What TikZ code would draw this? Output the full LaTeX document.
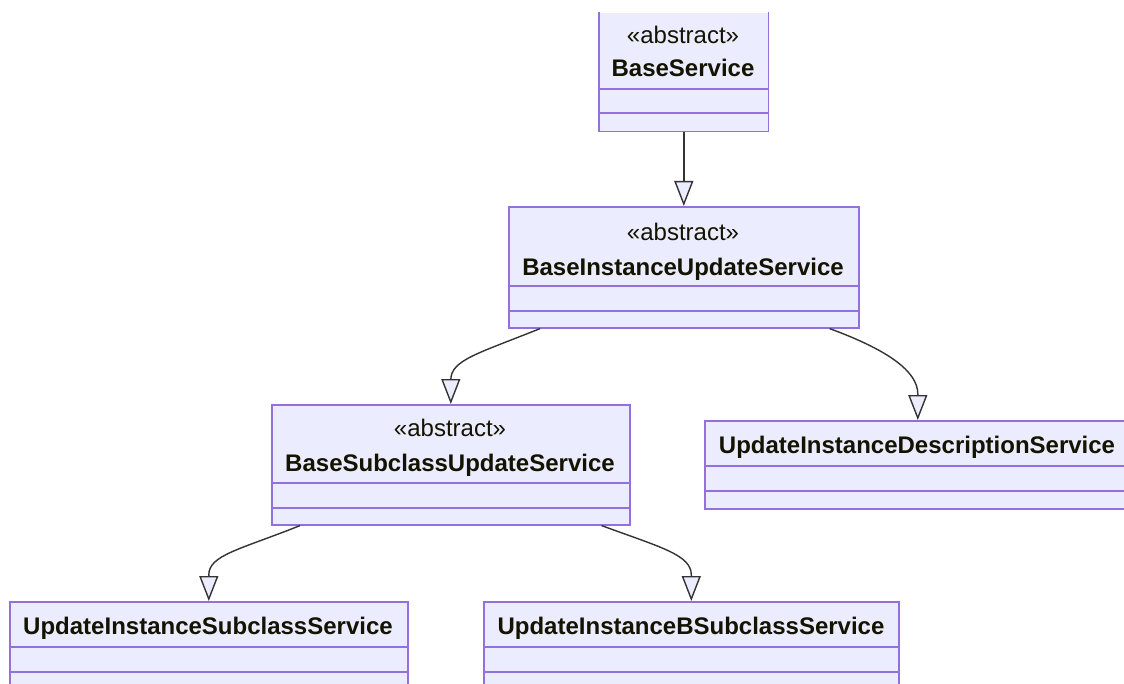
\documentclass[tikz,border=0pt]{standalone}
\usepackage{fontspec}
\setmainfont{Liberation Sans}
\usetikzlibrary{arrows.meta,calc}
\definecolor{classfill}{HTML}{ECECFF}
\definecolor{classline}{HTML}{9370DB}
\definecolor{edgeline}{HTML}{333333}
\definecolor{txt}{HTML}{131300}

\begin{document}
\begin{tikzpicture}[x=1pt,y=-1pt,
  classbox/.style={draw=classline, fill=classfill, line width=1.6pt, inner sep=0pt, anchor=north west},
  stereo/.style={font=\fontsize{24}{28}\selectfont, text=txt, anchor=base, inner sep=0pt},
  cname/.style={font=\fontsize{24}{28}\selectfont\bfseries, text=txt, anchor=base, inner sep=0pt},
  divider/.style={draw=classline, line width=1.6pt},
  inherit/.style={draw=edgeline, line width=1.4pt,
    -{Triangle[length=25pt,width=19pt,fill=classfill]}}
]
\useasboundingbox (0,0) rectangle (1124,684);
\fill[white] (0,0) rectangle (1124,684);
\clip (0,0) rectangle (1124,684);

% BaseService (top border lies outside the view)
\node[classbox, draw=none, minimum width=168pt, minimum height=118pt] (bs) at (599,12) {};
\draw[divider] (bs.north west) -- (bs.south west) -- (bs.south east) -- (bs.north east);
\draw[divider] ($(bs.north west)+(0,77)$) -- ($(bs.north east)+(0,77)$);
\draw[divider] ($(bs.north west)+(0,101)$) -- ($(bs.north east)+(0,101)$);
\node[stereo] (bs-st) at (683,43.5) {«abstract»};
\node[cname] (bs-nm) at (683,76.5) {BaseService};

% BaseInstanceUpdateService
\node[classbox, minimum width=350pt, minimum height=121pt] (bius) at (508,206) {};
\draw[divider] ($(bius.north west)+(0,80)$) -- ($(bius.north east)+(0,80)$);
\draw[divider] ($(bius.north west)+(0,105)$) -- ($(bius.north east)+(0,105)$);
\node[stereo] (bius-st) at (683,240.5) {«abstract»};
\node[cname] (bius-nm) at (683,275.5) {BaseInstanceUpdateService};

% BaseSubclassUpdateService
\node[classbox, minimum width=358pt, minimum height=120pt] (bsus) at (271,404) {};
\draw[divider] ($(bsus.north west)+(0,79)$) -- ($(bsus.north east)+(0,79)$);
\draw[divider] ($(bsus.north west)+(0,104)$) -- ($(bsus.north east)+(0,104)$);
\node[stereo] (bsus-st) at (450,436.5) {«abstract»};
\node[cname] (bsus-nm) at (450,471.5) {BaseSubclassUpdateService};

% UpdateInstanceDescriptionService
\node[classbox, minimum width=426pt, minimum height=88pt] (uids) at (704,420) {};
\draw[divider] ($(uids.north west)+(0,46)$) -- ($(uids.north east)+(0,46)$);
\draw[divider] ($(uids.north west)+(0,71)$) -- ($(uids.north east)+(0,71)$);
\node[cname] (uids-nm) at (917,453.5) {UpdateInstanceDescriptionService};

% UpdateInstanceSubclassService
\node[classbox, minimum width=398pt, minimum height=88pt] (uiss) at (9,601) {};
\draw[divider] ($(uiss.north west)+(0,46)$) -- ($(uiss.north east)+(0,46)$);
\draw[divider] ($(uiss.north west)+(0,71)$) -- ($(uiss.north east)+(0,71)$);
\node[cname] (uiss-nm) at (208,634.5) {UpdateInstanceSubclassService};

% UpdateInstanceBSubclassService
\node[classbox, minimum width=415pt, minimum height=88pt] (uibss) at (483,601) {};
\draw[divider] ($(uibss.north west)+(0,46)$) -- ($(uibss.north east)+(0,46)$);
\draw[divider] ($(uibss.north west)+(0,71)$) -- ($(uibss.north east)+(0,71)$);
\node[cname] (uibss-nm) at (691,634.5) {UpdateInstanceBSubclassService};

% inheritance edges
\draw[inherit] (bs.south) -- (bius.north);
\draw[inherit] ($(bius.south west)+(32,0)$) .. controls +(-62,25) and +(0,-20) .. ($(bsus.north)+(0,-24)$) -- (bsus.north);
\draw[inherit] ($(bius.south east)+(-30,0)$) .. controls +(60,22) and +(0,-22) .. ($(uids.north)+(0,-26)$) -- (uids.north);
\draw[inherit] ($(bsus.south west)+(29,0)$) .. controls +(-60,24) and +(0,-20) .. ($(uiss.north)+(0,-26)$) -- (uiss.north);
\draw[inherit] ($(bsus.south east)+(-29,0)$) .. controls +(60,22) and +(0,-20) .. ($(uibss.north)+(0,-26)$) -- (uibss.north);
\end{tikzpicture}
\end{document}
